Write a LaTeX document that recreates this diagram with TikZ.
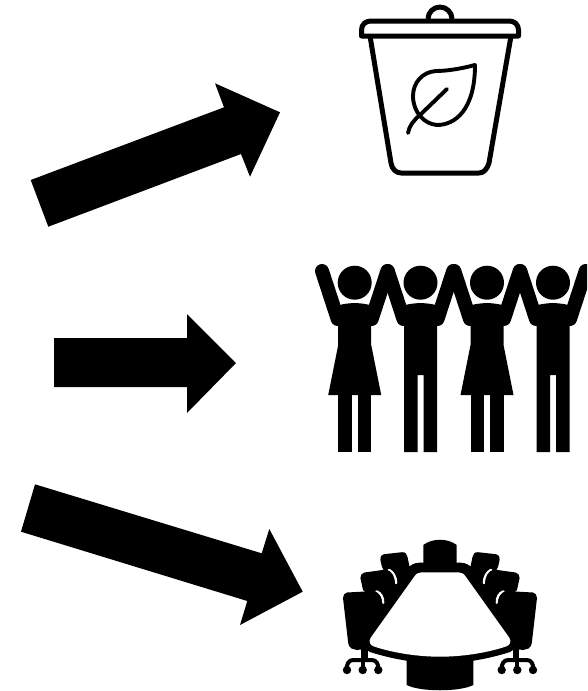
\documentclass[tikz,border=0pt]{standalone}
\tikzset{
  bigarrow/.style={fill=black,draw=none},
  binline/.style={draw=black,line width=5pt,line join=round,fill=none},
  leafline/.style={draw=black,line width=3.9pt,line join=round,line cap=round,fill=none},
  limb/.style={draw=black,line width=14pt,line cap=round},
  solid fill/.style={fill=black,draw=none},
  whitecut/.style={draw=white,line width=2.6pt,line cap=round,fill=none},
  caster/.style={draw=black,line width=4pt,line cap=round,line join=round,fill=none}
}
\newcommand{\personTop}[1]{%
  \begin{scope}[shift={(#1,0)}]
    \fill (0,282.7) circle (17);
    \draw[limb] (-32.7,271) -- (-17,319);
    \draw[limb] (32.7,271) -- (17,319);
    \fill (-15,305) .. controls (-6,302.5) and (6,302.5) .. (15,305) -- (16.5,325) -- (-16.5,325) -- cycle;
  \end{scope}}
\newcommand{\womanFig}[1]{%
  \personTop{#1}
  \begin{scope}[shift={(#1,0)}]
    \fill (-16.5,320) -- (16.5,320) -- (16.5,345) -- (26.5,395) -- (-26.5,395) -- (-16.5,345) -- cycle;
    \fill (-16.5,394) rectangle (-3,452);
    \fill (3,394) rectangle (16.5,452);
  \end{scope}}
\newcommand{\manFig}[1]{%
  \personTop{#1}
  \begin{scope}[shift={(#1,0)}]
    \fill (-16.5,320) -- (16.5,320) -- (16.5,452) -- (3,452) -- (3,375) -- (-3,375) -- (-3,452) -- (-16.5,452) -- cycle;
  \end{scope}}
\newcommand{\sideChairs}{%
  % back chair
  \fill[solid fill] (380.4,560) .. controls (380.4,556) and (381.5,554.5) .. (384,554.2) -- (402,552.2) .. controls (405.5,552) and (407,554) .. (407.5,557) -- (409.5,566.5) .. controls (412,564.5) and (416,563) .. (421,562.7) -- (421,575) -- (395,592) -- (382,567) -- cycle;
  \draw[whitecut] (389,570) .. controls (393,572) and (396,577) .. (396,583);
  % middle chair
  \fill[solid fill] (360.4,578) .. controls (360.4,575) and (362,573) .. (364.5,572.5) -- (386,569.5) .. controls (392,571) and (395,577) .. (395,584) -- (398,590) -- (386,612) -- (363,590) -- cycle;
  \draw[whitecut] (376.5,591.5) .. controls (381,593) and (383.5,598) .. (383,603);
  % front chair
  \fill[solid fill] (343,598) .. controls (343,595) and (344.5,593) .. (347,592.5) -- (374,591) .. controls (379,592.5) and (382,597) .. (382,603) -- (386,606) -- (372,648) -- (357,650) -- (351.5,648.5) .. controls (349.5,647.5) and (348.4,645) .. (348.2,643) -- cycle;
  % casters
  \fill[solid fill] (361.2,646) rectangle (367.5,660);
  \draw[caster] (347,670) .. controls (346,664) and (349,660) .. (353,660) -- (372,660) .. controls (376,660) and (379,664) .. (378.3,670);
  \draw[caster] (362.7,660) -- (362.7,670);
  \fill[solid fill] (347,670) circle (4.2);
  \fill[solid fill] (362.7,670) circle (4.2);
  \fill[solid fill] (378.3,670) circle (4.2);
}
\begin{document}
\begin{tikzpicture}[x=1pt,y=-1pt]
\useasboundingbox (0,0) rectangle (587,691);
\clip (0,0) rectangle (587,691);
% arrows
\fill[bigarrow] (30.7,180) -- (224,107.3) -- (215,83.3) -- (280,112.3) -- (250,176.7) -- (241,154) -- (48.3,226.7) -- cycle;
\fill[bigarrow] (54,338) -- (187,338) -- (187,314) -- (236,363) -- (187,413) -- (187,387) -- (54,387) -- cycle;
\fill[bigarrow] (35,484.3) -- (261.7,553.3) -- (269.3,529) -- (302.7,591.7) -- (240,625) -- (247.3,601) -- (21,531.7) -- cycle;
% bin
\draw[binline] (428,19) arc (180:360:12 and 12);
\draw[binline] (361.5,36) -- (361.5,30) .. controls (361.5,24) and (366,21) .. (371,21) -- (509,21) .. controls (514,21) and (518.5,24) .. (518.5,30) -- (518.5,36) -- cycle;
\draw[binline] (370,36) -- (391,163) .. controls (392,169) and (396,173) .. (401,173) -- (479,173) .. controls (484,173) and (487,169) .. (489,163) -- (511,36);
\draw[leafline] (475,65) .. controls (460,69) and (446,71) .. (436,71) .. controls (422,72) and (413,83) .. (413,96) .. controls (413,112) and (424,124) .. (437,125) .. controls (455,125) and (475,110) .. (475,65) -- cycle;
\draw[leafline] (447,89) -- (420,115) .. controls (414,120) and (409,126) .. (408,133);
% people
\womanFig{354.7}
\manFig{420.5}
\womanFig{487}
\manFig{553}
% table: head and foot chairs
\fill[solid fill] (423.3,564) -- (423.3,545) .. controls (432,538) and (448,538) .. (456.7,545) -- (456.7,564) -- cycle;
\fill[solid fill] (473.3,655) -- (473.3,685) .. controls (460,692) and (420,692) .. (406.7,685) -- (406.7,655) -- cycle;
% side chairs
\sideChairs
\begin{scope}[shift={(880,0)},xscale=-1]
\sideChairs
\end{scope}
% table top
\fill[solid fill] (420,562.7) -- (460,562.7) .. controls (466,562.7) and (470,565) .. (473,570) -- (514.5,640) .. controls (516,645) and (515,650) .. (510,652) .. controls (485,660) and (460,663.5) .. (440,663.5) .. controls (420,663.5) and (395,660) .. (370,652) .. controls (365,650) and (364,645) .. (365.5,640) -- (407,570) .. controls (410,565) and (414,562.7) .. (420,562.7) -- cycle;
\fill[white] (421,572.4) -- (459,572.4) .. controls (462,572.4) and (464,574) .. (466,577) -- (509.5,638) .. controls (511.5,642) and (510,645) .. (506,646.5) .. controls (485,653.5) and (460,656.7) .. (440,656.7) .. controls (420,656.7) and (395,653.5) .. (374,646.5) .. controls (370,645) and (368.5,642) .. (370.5,638) -- (414,577) .. controls (416,574) and (418,572.4) .. (421,572.4) -- cycle;
\end{tikzpicture}
\end{document}
